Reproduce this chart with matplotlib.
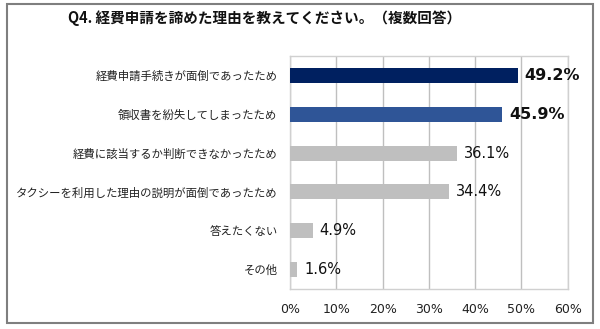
import matplotlib
matplotlib.use("Agg")
import matplotlib.pyplot as plt
from matplotlib.patches import Rectangle
from matplotlib.ticker import FuncFormatter

plt.rcParams['font.family'] = ['Noto Sans CJK JP', 'DejaVu Sans']

categories = [
    "経費申請手続きが面倒であったため",
    "領収書を紛失してしまったため",
    "経費に該当するか判断できなかったため",
    "タクシーを利用した理由の説明が面倒であったため",
    "答えたくない",
    "その他",
]
values = [49.2, 45.9, 36.1, 34.4, 4.9, 1.6]
colors = ["#002060", "#2F5597", "#BFBFBF", "#BFBFBF", "#BFBFBF", "#BFBFBF"]
bold_flags = [True, True, False, False, False, False]
title = "Q4. 経費申請を諦めた理由を教えてください。（複数回答）"
xticks = [0, 10, 20, 30, 40, 50, 60]

fig = plt.figure(figsize=(6.0, 3.29), dpi=100)
ax = fig.add_axes([290/600, 1-289/329, 277.7/600, 233/329])

y = list(range(len(categories)))
ax.barh(y, values, height=0.39, color=colors, zorder=3)
ax.set_ylim(len(categories)-0.5, -0.5)
ax.set_xlim(0, 60)
ax.set_xticks(xticks)
ax.xaxis.set_major_formatter(FuncFormatter(lambda v, p: f"{int(v)}%"))
ax.tick_params(axis='x', length=0, pad=10, labelsize=9, colors="#222222")
for lab in ax.get_xticklabels():
    lab.set_family('DejaVu Sans')
ax.set_yticks(y)
ax.set_yticklabels(categories, fontsize=8.2, color="#222222")
ax.tick_params(axis='y', length=0, pad=9)
ax.grid(axis='x', color="#BFBFBF", lw=1, zorder=0)
for s in ax.spines.values():
    s.set_color("#D0D0D0")
    s.set_linewidth(1)

for yi, v, b in zip(y, values, bold_flags):
    ax.text(v + 1.5, yi, f"{v:.1f}%", va='center', ha='left',
            fontsize=11.5 if b else 10.5,
            fontweight='bold' if b else 'normal',
            family='DejaVu Sans', color="#111111", zorder=4)

fig.text(264.5/600, 1-17.5/329, title, ha='center', va='center',
         fontsize=10.5, fontweight='bold', color="#111111")

fig.patches.append(Rectangle((7/600, 1-323/329), 586/600, 319/329,
                             transform=fig.transFigure, fill=False,
                             edgecolor="#7F7F7F", lw=1.5))

fig.savefig("out.png", dpi=100)
